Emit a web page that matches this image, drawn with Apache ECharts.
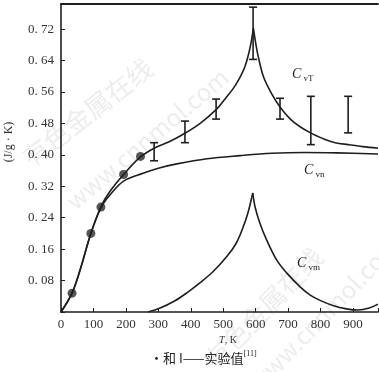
<!DOCTYPE html>
<html>
<head>
<meta charset="utf-8">
<script src="https://cdn.jsdelivr.net/npm/echarts@6/dist/echarts.min.js"></script>
<style>html,body{margin:0;padding:0;background:#fff}#c{width:379px;height:372px}</style>
</head>
<body>
<div id="c"></div>
<script>
// Data (T in K, Cv in J/(g·K))
const cvT = [[0,0],[34,0.048],[60,0.11],[92,0.2],[123,0.268],[150,0.306],[193,0.35],[244,0.394],[287,0.417],[335,0.434],[382,0.455],[430,0.481],[478,0.515],[506,0.543],[530,0.568],[547,0.59],[567,0.625],[582,0.67],[593,0.722],[600,0.685],[608,0.65],[624,0.599],[649,0.556],[675,0.522],[711,0.488],[762,0.459],[814,0.439],[845,0.431],[885,0.426],[930,0.421],[977,0.417]];
const cvn = [[0,0],[34,0.048],[60,0.11],[92,0.2],[123,0.265],[150,0.297],[193,0.333],[253,0.353],[300,0.366],[357,0.377],[450,0.39],[552,0.398],[650,0.404],[750,0.406],[850,0.405],[977,0.402]];
const cvm = [[268,0],[300,0.008],[350,0.028],[390,0.05],[428,0.074],[469,0.103],[511,0.141],[540,0.175],[560,0.213],[576,0.252],[591,0.303],[598,0.268],[613,0.226],[634,0.183],[665,0.132],[696,0.099],[737,0.064],[768,0.043],[800,0.029],[840,0.016],[880,0.008],[915,0.005],[950,0.01],[977,0.02]];
const dotX = [34,92,123,193,245];
const dotY = [0.048,0.2,0.267,0.35,0.396];
const ebX = [287,382,478,592,675,770,885];
const ebLow = [0.385,0.431,0.491,0.643,0.491,0.426,0.456];
const ebHigh = [0.431,0.486,0.542,0.776,0.544,0.549,0.549];
const xTicks = [0,100,200,300,400,500,600,700,800,900];
const yTicks = [0.08,0.16,0.24,0.32,0.40,0.48,0.56,0.64,0.72];

const ink = '#1e1e1e';
const chart = echarts.init(document.getElementById('c'), null, {renderer:'canvas'});
const serif = '"Liberation Serif","DejaVu Serif",serif';

// split a curve at its cusp (maximum) so the peak stays sharp
function branches(arr){
  let k = 0;
  arr.forEach((p,i)=>{ if (p[1] > arr[k][1]) k = i; });
  return [arr.slice(0,k+1), arr.slice(k)];
}
function lineSeries(data){
  return {type:'line', data:data, smooth:0.35, symbol:'none', lineStyle:{color:ink, width:1.6}};
}
function wm(text, x, y, rot, size){
  return {type:'text', x:x, y:y, rotation:rot, z:-10, silent:true,
    style:{text:text, fill:'#ededed', font: size+'px "Noto Sans CJK SC", sans-serif'}};
}
function cLabel(x, y, sub){
  return {type:'text', x:x, y:y, silent:true,
    style:{text:'{c|C}{s| '+sub+'}', fill:ink,
      rich:{c:{fontFamily:serif, fontStyle:'italic', fontSize:14, fill:ink},
            s:{fontFamily:serif, fontSize:9, fill:ink, padding:[8,0,0,0]}}}};
}

const [tL, tR] = branches(cvT);
const [mL, mR] = branches(cvm);

chart.setOption({
  animation:false,
  grid:{left:61, right:1, top:4, bottom:60, outerBoundsMode:'none'},
  xAxis:[{
    type:'value', min:0, max:977, interval:100,
    axisLine:{lineStyle:{color:ink, width:1.6}},
    axisTick:{inside:true, length:4, lineStyle:{color:ink}},
    splitLine:{show:false},
    axisLabel:{color:'#333', fontFamily:serif, fontSize:13, margin:6,
      formatter:v => xTicks.indexOf(v) >= 0 ? String(v) : ''}
  },{
    type:'value', position:'top', min:0, max:977,
    axisLine:{show:true, lineStyle:{color:ink, width:1.8}},
    axisTick:{show:false}, axisLabel:{show:false}, splitLine:{show:false}
  }],
  yAxis:{
    type:'value', min:0, max:0.784, interval:0.08,
    axisLine:{show:true, lineStyle:{color:ink, width:1.6}},
    axisTick:{inside:true, length:4, lineStyle:{color:ink}},
    splitLine:{show:false},
    axisLabel:{color:'#333', fontFamily:serif, fontSize:13, margin:7,
      formatter:v => {
        const m = yTicks.find(t => Math.abs(t - v) < 1e-6);
        return m === undefined ? '' : m.toFixed(2).replace('.', '. ');
      }}
  },
  series:[
    lineSeries(tL), lineSeries(tR),
    lineSeries(cvn),
    lineSeries(mL), lineSeries(mR),
    {type:'scatter', data:dotX.map((x,i)=>[x,dotY[i]]), symbol:'circle', symbolSize:9,
      itemStyle:{color:'#2a2a2a'}},
    {type:'custom', data:ebX.map((x,i)=>[x,ebLow[i],ebHigh[i]]),
      renderItem:function(params, api){
        const x = api.value(0);
        const lo = api.coord([x, api.value(1)]);
        const hi = api.coord([x, api.value(2)]);
        const w = 4;
        const st = {stroke:ink, lineWidth:1.6};
        return {type:'group', children:[
          {type:'line', shape:{x1:lo[0], y1:lo[1], x2:hi[0], y2:hi[1]}, style:st},
          {type:'line', shape:{x1:lo[0]-w, y1:lo[1], x2:lo[0]+w, y2:lo[1]}, style:st},
          {type:'line', shape:{x1:hi[0]-w, y1:hi[1], x2:hi[0]+w, y2:hi[1]}, style:st}
        ]};
      }}
  ],
  graphic:[
    wm('有色金属在线', 18, 150, 0.66, 26),
    wm('www.cnnmol.com', 62, 195, 0.7, 24),
    wm('有色金属在线', 200, 355, 0.8, 26),
    wm('www.cnnmol.com', 245, 378, 0.8, 24),
    {type:'text', x:9, y:142, rotation:Math.PI/2, silent:true,
      style:{text:'(J/g · K)', fill:'#333', font:'12px '+serif, align:'center', verticalAlign:'middle'}},
    cLabel(292, 66, 'vT'),
    cLabel(304, 162, 'vn'),
    cLabel(297, 255, 'vm'),
    {type:'text', x:228, y:340, silent:true,
      style:{text:'{i|T}, K', fill:'#333', font:'10px '+serif, align:'center', verticalAlign:'middle', rich:{i:{fontStyle:'italic', fontFamily:serif, fontSize:10, fill:'#333'}}}},
    {type:'text', x:150, y:358, silent:true,
      style:{text:'•和 I——实验值{sup|[11]}', fill:'#222', font:'13px "Noto Sans CJK SC", sans-serif', verticalAlign:'middle',
        rich:{sup:{fontSize:8, fontFamily:serif, fill:'#222', padding:[0,0,8,0]}}}}
  ]
});
</script>
</body>
</html>
